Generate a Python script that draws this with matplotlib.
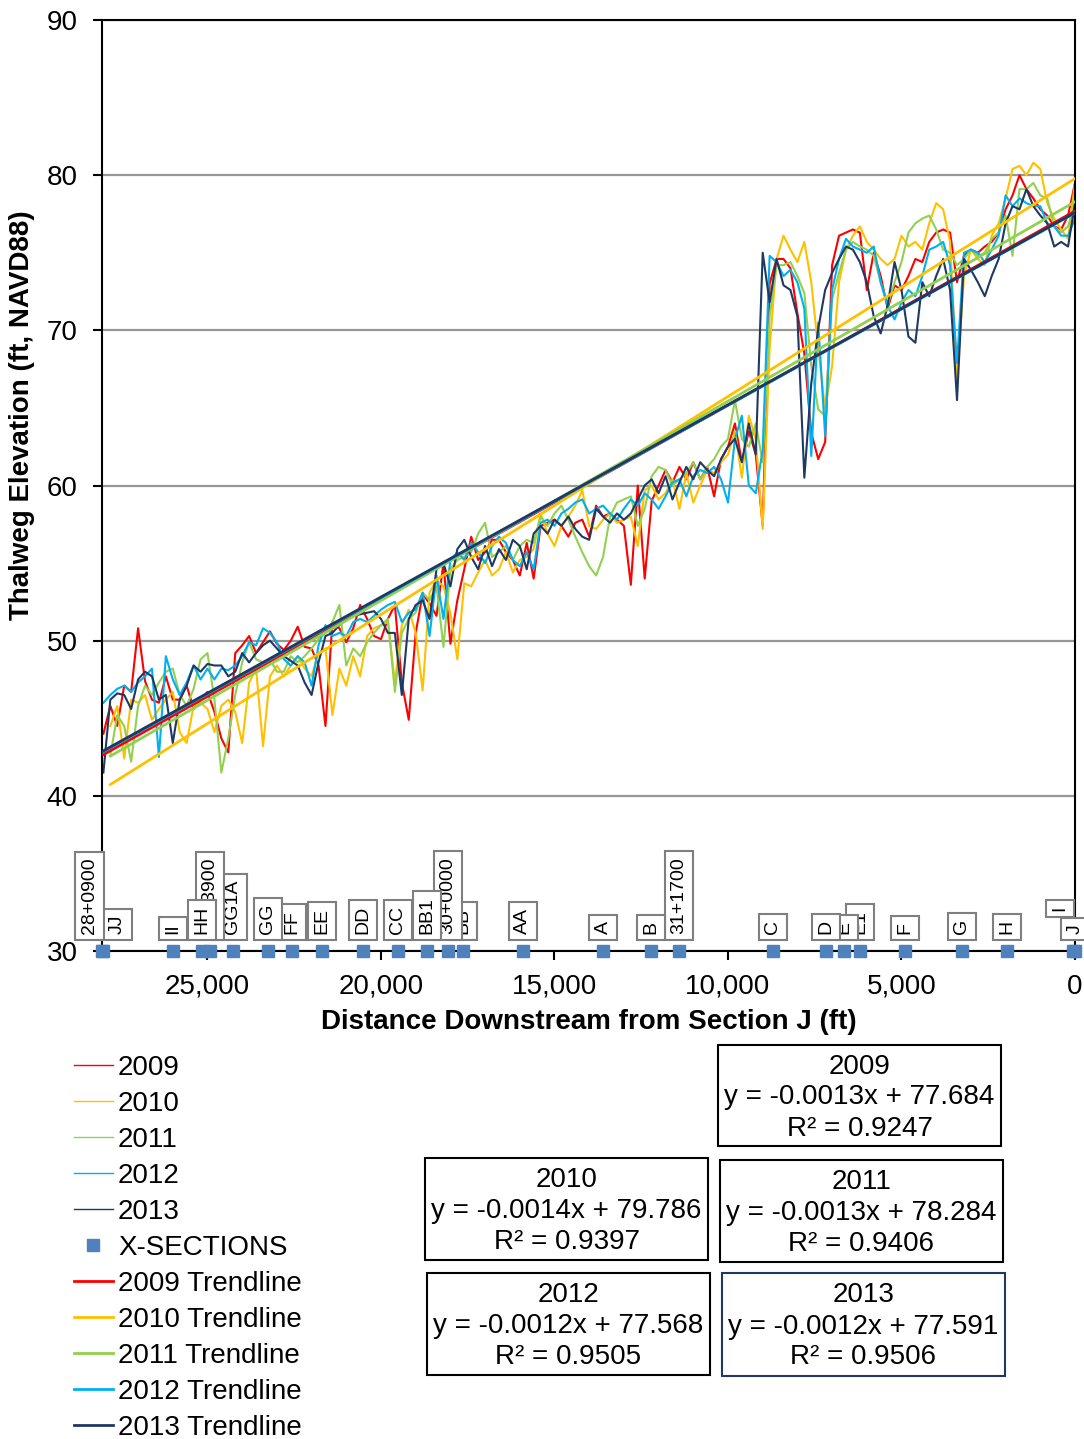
import numpy as np
import matplotlib
matplotlib.use("Agg")
import matplotlib.pyplot as plt
from matplotlib.patches import Rectangle
from matplotlib.ticker import FuncFormatter

plt.rcParams['font.family'] = ['Liberation Sans', 'DejaVu Sans']

# ---------------- data ----------------
dist = [28000, 27800, 27600, 27400, 27200, 27000, 26800, 26600, 26400, 26200,
        26000, 25800, 25600, 25400, 25200, 25000, 24800, 24600, 24400, 24200,
        24000, 23800, 23600, 23400, 23200, 23000, 22800, 22600, 22400, 22200,
        22000, 21800, 21600, 21400, 21200, 21000, 20800, 20600, 20400, 20200,
        20000, 19800, 19600, 19400, 19200, 19000, 18800, 18600, 18400, 18200,
        18000, 17800, 17600, 17400, 17200, 17000, 16800, 16600, 16400, 16200,
        16000, 15800, 15600, 15400, 15200, 15000, 14800, 14600, 14400, 14200,
        14000, 13800, 13600, 13400, 13200, 13000, 12800, 12600, 12400, 12200,
        12000, 11800, 11600, 11400, 11200, 11000, 10800, 10600, 10400, 10200,
        10000, 9800, 9600, 9400, 9200, 9000, 8800, 8600, 8400, 8200,
        8000, 7800, 7600, 7400, 7200, 7000, 6800, 6600, 6400, 6200,
        6000, 5800, 5600, 5400, 5200, 5000, 4800, 4600, 4400, 4200,
        4000, 3800, 3600, 3400, 3200, 3000, 2800, 2600, 2400, 2200,
        2000, 1800, 1600, 1400, 1200, 1000, 800, 600, 400, 200,
        0]

elev_2009 = [44.0, 45.8, 44.5, 47.1, 46.7, 50.8, 47.4, 46.2, 46.0, 47.7,
             46.2, 46.2, 47.1, 45.6, 46.2, 46.7, 45.4, 43.7, 42.8, 49.2,
             49.7, 50.3, 49.2, 49.9, 50.6, 49.8, 49.4, 50.0, 50.9, 49.6,
             49.5, 48.4, 44.5, 51.2, 50.8, 49.9, 50.8, 52.3, 51.4, 50.3,
             50.1, 51.4, 52.3, 47.3, 44.9, 50.5, 53.0, 52.4, 51.6, 55.0,
             49.8, 52.6, 54.6, 56.7, 55.2, 55.7, 56.5, 56.5, 55.7, 55.2,
             54.2, 56.3, 54.0, 57.4, 57.6, 57.8, 57.4, 56.7, 57.6, 57.8,
             56.7, 58.7, 58.0, 58.2, 57.8, 57.4, 53.6, 60.0, 54.0, 59.0,
             60.0, 61.0, 60.2, 61.2, 60.4, 61.5, 60.4, 61.2, 59.3, 61.7,
             62.5, 64.0, 61.5, 63.5, 62.0, 57.4, 73.0, 74.6, 74.6, 74.0,
             71.1, 68.5, 63.4, 61.7, 62.8, 74.2, 76.1, 76.3, 76.5, 76.3,
             72.6, 75.0, 73.5, 71.4, 72.9, 72.6, 73.5, 74.6, 74.4, 75.7,
             76.3, 76.5, 76.3, 73.1, 74.8, 75.2, 75.0, 75.4, 75.7, 76.3,
             77.8, 78.7, 80.0, 79.1, 78.5, 77.8, 77.4, 76.7, 76.5, 77.4,
             79.5]

elev_2010 = [np.nan, 44.5, 45.8, 42.4, 46.2, 46.0, 46.5, 44.9, 45.6, 46.2,
             46.7, 44.1, 43.4, 45.8, 46.0, 45.6, 44.1, 45.8, 46.2, 45.4,
             43.4, 47.3, 48.2, 43.2, 47.7, 48.4, 47.7, 48.4, 49.0, 48.2,
             47.7, 49.2, 49.5, 45.2, 48.2, 47.1, 49.0, 47.7, 50.3, 50.8,
             51.0, 51.2, 47.3, 51.0, 52.0, 50.5, 46.8, 53.1, 53.9, 53.5,
             51.8, 48.8, 53.7, 53.5, 54.4, 55.2, 54.2, 54.6, 55.7, 54.4,
             55.2, 55.4, 55.9, 58.2, 56.9, 56.1, 57.4, 58.0, 58.7, 59.7,
             57.4, 57.2, 57.8, 58.2, 57.6, 57.8, 58.0, 56.1, 59.7, 60.0,
             59.1, 59.5, 60.4, 58.5, 60.8, 58.9, 60.0, 61.0, 60.8, 61.5,
             62.0, 63.5, 60.5, 64.5, 63.0, 57.2, 68.8, 74.6, 76.1, 75.2,
             74.4, 75.7, 73.1, 68.8, 64.9, 67.7, 73.1, 75.2, 76.1, 76.7,
             75.7, 75.2, 74.6, 74.2, 74.6, 76.1, 75.4, 75.7, 75.2, 76.9,
             78.2, 77.8, 75.7, 66.8, 73.5, 75.2, 74.6, 74.2, 76.1, 76.9,
             78.5, 80.4, 80.6, 80.0, 80.8, 80.4, 78.2, 77.2, 76.5, 75.9,
             79.5]

elev_2011 = [np.nan, 42.6, 45.2, 44.5, 42.2, 45.8, 47.1, 46.5, 47.3, 48.0,
             48.2, 46.5, 45.8, 46.9, 48.8, 49.2, 46.2, 41.5, 43.7, 46.5,
             48.6, 49.9, 48.8, 48.6, 48.8, 48.0, 48.0, 49.0, 48.6, 49.0,
             49.5, 50.1, 50.5, 51.2, 52.3, 48.4, 49.5, 49.0, 49.9, 50.5,
             51.0, 51.4, 46.7, 50.5, 51.4, 51.8, 53.1, 52.6, 53.5, 49.6,
             54.6, 55.2, 55.4, 55.7, 56.9, 57.6, 55.4, 55.7, 56.1, 55.2,
             56.1, 56.5, 56.3, 58.0, 57.4, 58.2, 58.7, 57.8, 56.7, 55.7,
             54.8, 54.2, 55.4, 58.0, 58.9, 59.1, 59.3, 57.4, 58.5, 60.6,
             61.2, 61.0, 60.0, 60.4, 60.8, 61.5, 60.4, 61.2, 61.7, 62.5,
             63.0, 65.5, 63.0, 62.5, 64.0, 61.5, 70.9, 74.2, 74.2, 74.4,
             73.5, 72.4, 67.7, 64.9, 64.5, 72.0, 73.7, 75.2, 75.7, 75.4,
             75.2, 74.8, 73.1, 71.6, 73.1, 74.4, 76.3, 76.9, 77.2, 77.4,
             76.5, 75.2, 75.0, 74.2, 74.6, 75.2, 74.8, 75.0, 75.9, 76.3,
             77.4, 74.8, 79.1, 79.1, 79.5, 78.7, 78.5, 76.7, 76.3, 76.7,
             78.2]

elev_2012 = [46.0, 46.5, 46.9, 47.1, 46.7, 47.3, 47.7, 48.2, 42.5, 49.0,
             47.5, 46.5, 47.3, 48.4, 47.5, 48.2, 47.5, 48.2, 48.1, 48.4,
             49.0, 49.9, 49.7, 50.8, 50.5, 49.9, 48.8, 48.4, 49.0, 48.6,
             47.1, 49.7, 51.0, 50.3, 50.5, 50.3, 51.2, 51.4, 51.2, 51.6,
             52.0, 52.3, 52.5, 51.2, 51.8, 52.0, 53.1, 50.3, 54.2, 51.4,
             55.2, 55.7, 55.2, 56.3, 55.7, 55.0, 56.1, 56.7, 56.3, 55.2,
             54.8, 55.7, 54.6, 57.6, 57.8, 57.4, 58.2, 58.5, 58.9, 59.1,
             58.2, 58.5, 58.7, 58.2, 57.8, 58.5, 59.1, 58.7, 59.5, 59.1,
             58.5, 59.3, 60.2, 60.4, 59.3, 60.6, 61.0, 60.8, 61.2, 60.4,
             58.9, 63.0, 64.5, 60.0, 59.5, 62.3, 74.8, 74.4, 73.5, 73.9,
             73.1, 71.4, 61.9, 70.5, 63.2, 72.6, 74.6, 75.9, 75.4, 75.2,
             75.0, 75.4, 73.1, 71.6, 70.7, 71.8, 72.6, 72.2, 73.5, 75.2,
             75.4, 75.7, 74.2, 67.9, 75.0, 75.2, 75.0, 74.4, 75.2, 76.1,
             78.7, 78.0, 78.5, 78.2, 78.0, 78.0, 76.9, 76.7, 76.1, 76.1,
             77.2]

elev_2013 = [41.5, 46.2, 46.6, 46.5, 45.6, 47.5, 48.0, 47.7, 46.2, 46.5,
             43.4, 46.2, 47.1, 48.4, 48.0, 48.5, 48.4, 48.4, 47.7, 48.0,
             49.2, 48.6, 49.2, 49.7, 50.0, 49.5, 49.0, 48.7, 48.4, 47.3,
             46.5, 48.6, 50.3, 50.5, 51.0, 51.4, 51.6, 51.7, 51.8, 51.9,
             51.4, 50.5, 50.5, 46.5, 51.4, 52.3, 52.6, 51.4, 54.6, 55.0,
             53.5, 55.9, 56.5, 55.4, 54.6, 56.1, 54.8, 55.9, 55.2, 56.5,
             56.1, 54.6, 56.9, 57.4, 56.9, 57.8, 57.4, 58.0, 57.2, 56.7,
             56.5, 58.5, 58.0, 57.6, 58.2, 57.8, 58.2, 59.1, 60.0, 60.4,
             59.5, 60.6, 59.1, 60.2, 61.2, 60.4, 61.5, 61.0, 60.6, 61.7,
             62.5, 63.0, 61.5, 64.0, 62.0, 75.0, 71.8, 74.6, 72.9, 72.6,
             70.9, 60.5, 66.6, 70.1, 72.6, 73.7, 74.6, 75.4, 75.2, 74.4,
             73.1, 70.9, 69.8, 71.6, 74.4, 72.6, 69.6, 69.2, 73.1, 72.2,
             73.5, 74.6, 72.6, 65.5, 74.6, 73.9, 73.1, 72.2, 73.5, 74.6,
             76.9, 78.0, 77.8, 79.1, 78.0, 77.4, 76.9, 75.4, 75.7, 75.4,
             78.2]

years = ['2009', '2010', '2011', '2012', '2013']
series = [elev_2009, elev_2010, elev_2011, elev_2012, elev_2013]

# trendline coefficients (slope, intercept from labels)
trend_slope = [-0.001251, -0.001405, -0.001285, -0.001240, -0.001239]
trend_intercept = [77.684, 79.786, 78.284, 77.568, 77.591]
eq_slope_text = ['-0.0013', '-0.0014', '-0.0013', '-0.0012', '-0.0012']
eq_r2 = ['0.9247', '0.9397', '0.9406', '0.9505', '0.9506']

# cross sections (distance downstream from J, ft)
xsec_names = ['J', 'I', 'H', 'G', 'F', 'E1', 'E', 'D', 'C', '31+1700', 'B', 'A',
              'AA', 'BB', '30+0000', 'BB1', 'CC', 'DD', 'EE', 'FF', 'GG', 'GG1A',
              '29+3900', 'HH', 'II', 'JJ', '28+0900']
xsec_dist = [0, 60, 1960, 3257, 4899, 6196, 6657, 7176, 8704, 11413, 12220, 13603,
             15909, 17638, 18070, 18675, 19511, 20520, 21701, 22566, 23258, 24266,
             24930, 25160, 25996, 28000, 28040]
xsec_elev = [30] * len(xsec_dist)

colors = ['#FF0000', '#FFC000', '#92D050', '#00B0F0', '#1F3864']

# ---------------- figure ----------------
W, H = 1084, 1439
fig = plt.figure(figsize=(W / 100, H / 100), dpi=100)
L, R, T, B = 102, 1075, 20, 951
ax = fig.add_axes([L / W, 1 - B / H, (R - L) / W, (B - T) / H])

x = np.array(dist, dtype=float)
data_handles = []
for yr, vals, c in zip(years, series, colors):
    h, = ax.plot(x, np.array(vals, dtype=float), color=c, lw=1.5, label=yr, zorder=2)
    data_handles.append(h)

xs_handle, = ax.plot(xsec_dist, xsec_elev, 's', color='#4F81BD', ms=8,
                     clip_on=False, zorder=6, label='X-SECTIONS')

trend_handles = []
for yr, vals, c, m, b in zip(years, series, colors, trend_slope, trend_intercept):
    v = np.array(vals, dtype=float)
    xs = x[~np.isnan(v)]
    xt = np.array([xs.max(), xs.min()])
    h, = ax.plot(xt, m * xt + b, color=c, lw=2.0, label=yr + ' Trendline', zorder=4)
    trend_handles.append(h)

ax.set_xlim(28040, 0)
ax.set_ylim(30, 90)
ax.set_xticks([25000, 20000, 15000, 10000, 5000, 0])
ax.xaxis.set_major_formatter(FuncFormatter(lambda v, p: f"{v:,.0f}"))
ax.set_yticks([30, 40, 50, 60, 70, 80, 90])
ax.yaxis.grid(True, color='#979797', lw=1.6)
ax.set_axisbelow(True)
for s in ax.spines.values():
    s.set_color('black')
    s.set_linewidth(1.5)
ax.tick_params(axis='both', direction='out', length=6.5, width=1.5, labelsize=20)
ax.tick_params(axis='y', pad=11)
ax.tick_params(axis='x', pad=10)

# cross-section labels
shift = {'28+0900': (-12.5, 0), 'JJ': (14, 0), 'I': (-13, 23)}
for i, (nm, d) in enumerate(zip(xsec_names, xsec_dist)):
    dx, dy = shift.get(nm, (0, 0))
    ax.annotate(nm, xy=(d, 30), xycoords='data', xytext=(dx, 17 + dy),
                textcoords='offset pixels', rotation=90, ha='center', va='bottom',
                fontsize=14, annotation_clip=False, zorder=10 + i,
                bbox=dict(boxstyle='square,pad=0.3', fc='white', ec='#7F7F7F', lw=1.5))

fig.text(22 / W, 1 - 415 / H, 'Thalweg Elevation (ft, NAVD88)', rotation=90,
         ha='center', va='center', fontsize=20, fontweight='bold')
fig.text(588.5 / W, 1 - 1022 / H, 'Distance Downstream from Section J (ft)',
         ha='center', va='center', fontsize=20, fontweight='bold')

# legend
handles = data_handles + [xs_handle] + trend_handles
leg = fig.legend(handles=handles, loc='upper left',
                 bbox_to_anchor=(74 / W, 1 - 1055 / H), frameon=False,
                 fontsize=20, borderpad=0, borderaxespad=0, handlelength=1.4,
                 handletextpad=0.18, labelspacing=0.36)
for ln in leg.get_lines()[:5]:
    ln.set_linewidth(1.0)

# equation boxes
boxes = [(718, 1045, 1001, 1146), (425, 1158, 708, 1260), (720, 1160, 1003, 1262),
         (427, 1273, 710, 1375), (722, 1273, 1005, 1376)]
box_ec = ['black', 'black', 'black', 'black', '#1F3864']
for yr, sl, b, r2, (x0, y0, x1, y1), ec in zip(years, eq_slope_text, trend_intercept,
                                                 eq_r2, boxes, box_ec):
    fig.patches.append(Rectangle((x0 / W, 1 - y1 / H), (x1 - x0) / W, (y1 - y0) / H,
                                 transform=fig.transFigure, fill=False, ec=ec, lw=1.5))
    txt = f"{yr}\ny = {sl}x + {b:.3f}\nR\u00b2 = {r2}"
    fig.text((x0 + x1) / 2 / W, 1 - (y0 + y1) / 2 / H - 2 / H, txt, ha='center',
             va='center', multialignment='center', fontsize=20, linespacing=1.25)

fig.savefig('out.png', dpi=100)
